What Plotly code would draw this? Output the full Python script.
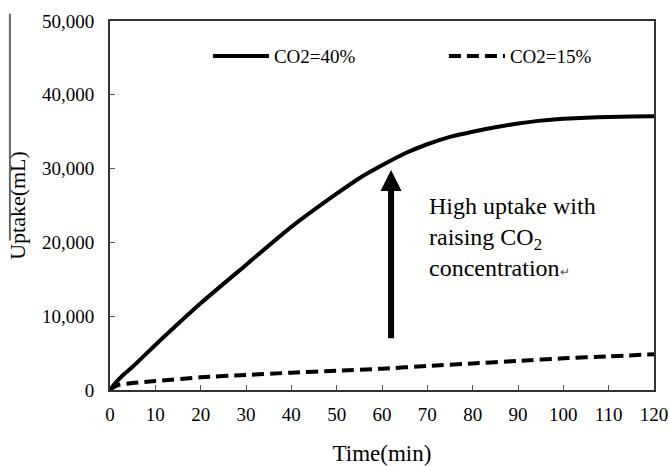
import plotly.graph_objects as go

# ---- data ----
time_40 = [0, 1, 3, 5, 10, 20, 30, 40, 50, 55, 60, 65, 70, 75, 80, 85, 90, 95, 100, 105, 110, 115, 120]
uptake_40 = [0, 800, 2100, 3150, 6100, 11750, 16950, 22100, 26600, 28700, 30450, 32050, 33300, 34300,
             35000, 35600, 36100, 36500, 36750, 36900, 37000, 37050, 37100]
time_15 = [0, 1, 2, 5, 10, 20, 30, 40, 50, 60, 70, 80, 90, 100, 110, 120]
uptake_15 = [0, 450, 700, 950, 1220, 1720, 2030, 2350, 2620, 2890, 3250, 3600, 3950, 4290, 4560, 4850]
label_40 = "CO2=40%"
label_15 = "CO2=15%"
x_ticks = list(range(0, 121, 10))
y_ticks = list(range(0, 50001, 10000))
arrow_t = 62
arrow_from = 6800
arrow_to = 29800

serif = "Liberation Serif, Times New Roman, serif"

fig = go.Figure()
fig.add_trace(go.Scatter(x=time_40, y=uptake_40, mode="lines", name=label_40,
                         line=dict(color="black", width=4, shape="spline", smoothing=0.6)))
fig.add_trace(go.Scatter(x=time_15, y=uptake_15, mode="lines", name=label_15,
                         line=dict(color="black", width=4, dash="12px,6px", shape="spline", smoothing=0.6)))

fig.add_annotation(x=arrow_t, y=arrow_to, ax=arrow_t, ay=arrow_from, xref="x", yref="y",
                   axref="x", ayref="y", showarrow=True, arrowhead=2, arrowsize=0.7,
                   arrowwidth=6, arrowcolor="black", text="")
fig.add_annotation(x=70, y=27000, xref="x", yref="y", xanchor="left", yanchor="top",
                   align="left", showarrow=False,
                   text="High uptake with<br>raising CO<sub>2</sub><br>concentration<span style='font-size:12px;color:#555'>↵</span>",
                   font=dict(family=serif, size=24, color="black"))

fig.add_shape(type="line", xref="paper", yref="paper", x0=-0.184, x1=-0.184, y0=1.02, y1=0.405,
              line=dict(color="#666", width=2), layer="above")

axis_common = dict(showgrid=False, zeroline=False, showline=True, linecolor="#333", linewidth=2,
                   mirror=True, ticks="inside", ticklen=5, tickcolor="#555", tickwidth=1,
                   automargin=False,
                   tickfont=dict(family=serif, size=19, color="black"))

fig.update_xaxes(range=[0, 120], tickvals=x_ticks, ticklabelstandoff=6,
                 title=dict(text="Time(min)", font=dict(family=serif, size=23, color="black"), standoff=22),
                 **axis_common)
fig.update_yaxes(range=[0, 50000], tickvals=y_ticks, tickformat=",", ticklabelstandoff=10,
                 title=dict(text="Uptake(mL)", font=dict(family=serif, size=22, color="black"), standoff=10),
                 **axis_common)

fig.update_layout(
    width=669, height=466,
    margin=dict(l=110, r=15, t=21, b=76, autoexpand=False),
    plot_bgcolor="white", paper_bgcolor="white",
    legend=dict(orientation="h", x=0.18, y=0.905, xanchor="left", yanchor="middle",
                entrywidth=165, entrywidthmode="pixels", bgcolor="rgba(0,0,0,0)",
                font=dict(family=serif, size=19, color="black"), itemwidth=56),
    showlegend=True,
)

fig.write_html("out.html", config={"displayModeBar": False},
               post_script="document.body.style.margin='0';")
